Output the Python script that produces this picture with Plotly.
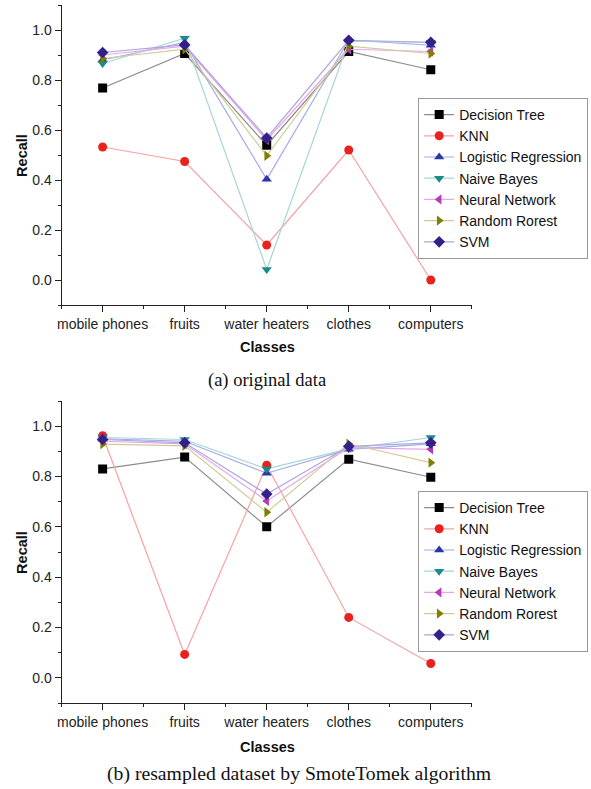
import plotly.graph_objects as go

classes = ["mobile phones", "fruits", "water heaters", "clothes", "computers"]
models = ["Decision Tree", "KNN", "Logistic Regression", "Naive Bayes",
          "Neural Network", "Random Rorest", "SVM"]

# (a) original data
orig_dt = [0.768, 0.906, 0.539, 0.914, 0.841]
orig_knn = [0.532, 0.474, 0.140, 0.520, 0.000]
orig_lr = [0.880, 0.950, 0.403, 0.960, 0.939]
orig_nb = [0.866, 0.967, 0.042, 0.955, 0.950]
orig_nn = [0.900, 0.935, 0.560, 0.923, 0.914]
orig_rf = [0.886, 0.923, 0.497, 0.935, 0.906]
orig_svm = [0.910, 0.940, 0.568, 0.959, 0.951]

# (b) resampled by SmoteTomek
res_dt = [0.830, 0.877, 0.600, 0.869, 0.797]
res_knn = [0.962, 0.093, 0.845, 0.240, 0.057]
res_lr = [0.950, 0.940, 0.813, 0.908, 0.930]
res_nb = [0.955, 0.947, 0.830, 0.910, 0.955]
res_nn = [0.940, 0.930, 0.703, 0.915, 0.908]
res_rf = [0.929, 0.922, 0.658, 0.930, 0.855]
res_svm = [0.947, 0.934, 0.730, 0.920, 0.934]

y_ticks = [0.0, 0.2, 0.4, 0.6, 0.8, 1.0]

orig = [orig_dt, orig_knn, orig_lr, orig_nb, orig_nn, orig_rf, orig_svm]
res = [res_dt, res_knn, res_lr, res_nb, res_nn, res_rf, res_svm]

symbols = ["square", "circle", "triangle-up", "triangle-down",
           "triangle-left", "triangle-right", "diamond"]
mcolors = ["#000000", "#e8231f", "#2b35a8", "#1b8a8a", "#b43cb4", "#7f7f00", "#35208a"]
lcolors = ["#8c8c8c", "#f5a3a3", "#a3a8ec", "#a6d6d6", "#e6a6ec", "#cdcd98", "#aea6dc"]

xpos = list(range(1, len(classes) + 1))

fig = go.Figure()
for i, m in enumerate(models):
    fig.add_trace(go.Scatter(
        x=xpos, y=orig[i], mode="lines+markers", name=m,
        line=dict(color=lcolors[i], width=1.2),
        marker=dict(symbol=symbols[i], color=mcolors[i], size=9),
        xaxis="x", yaxis="y", legend="legend"))
for i, m in enumerate(models):
    fig.add_trace(go.Scatter(
        x=xpos, y=res[i], mode="lines+markers", name=m,
        line=dict(color=lcolors[i], width=1.2),
        marker=dict(symbol=symbols[i], color=mcolors[i], size=9),
        xaxis="x2", yaxis="y2", legend="legend2"))

W, H = 591, 789
xl, xr = 58, 471
def py(p):
    return 1 - p / H

tickfont = dict(family="Liberation Sans, Arial", size=14, color="#222")
xcommon = dict(range=[0.5, 5.5], tickvals=xpos, ticktext=classes,
               showline=True, linecolor="#222", linewidth=1.2,
               ticks="outside", ticklen=6, tickcolor="#222",
               showgrid=False, zeroline=False, tickfont=tickfont,
               minor=dict(ticks="outside", ticklen=3, tick0=0.5, dtick=0.5, tickcolor="#222"))
ycommon = dict(range=[-0.1, 1.1], tickvals=y_ticks, tickformat=".1f",
               showline=True, linecolor="#222", linewidth=1.2,
               ticks="outside", ticklen=6, tickcolor="#222",
               showgrid=False, zeroline=False, tickfont=tickfont,
               minor=dict(ticks="outside", ticklen=3, tick0=0.1, dtick=0.2, tickcolor="#222"))

legcommon = dict(bgcolor="white", bordercolor="#999", borderwidth=1,
                 font=dict(family="Liberation Sans, Arial", size=14, color="#111"),
                 xanchor="left", yanchor="top", tracegroupgap=0, itemwidth=30)

fig.update_layout(
    width=W, height=H, margin=dict(l=0, r=0, t=0, b=0),
    paper_bgcolor="white", plot_bgcolor="white", showlegend=True,
    xaxis=dict(domain=[xl / W, xr / W], anchor="y", **xcommon),
    yaxis=dict(domain=[py(305), py(5)], anchor="x", **ycommon),
    xaxis2=dict(domain=[xl / W, xr / W], anchor="y2", **xcommon),
    yaxis2=dict(domain=[py(703), py(401)], anchor="x2", **ycommon),
    legend=dict(x=417 / W, y=py(98), **legcommon),
    legend2=dict(x=417 / W, y=py(491), **legcommon),
)

bold = dict(family="Liberation Sans, Arial", size=14.5, color="#111")
ann = [
    dict(text="<b>Recall</b>", x=18 / W, y=py(155), textangle=-90, font=bold),
    dict(text="<b>Classes</b>", x=265 / W, y=py(347), font=bold),
    dict(text="(a) original data", x=265 / W, y=py(380),
         font=dict(family="Liberation Serif, Times New Roman", size=18.5, color="#111")),
    dict(text="<b>Recall</b>", x=18 / W, y=py(552), textangle=-90, font=bold),
    dict(text="<b>Classes</b>", x=265 / W, y=py(747), font=bold),
    dict(text="(b) resampled dataset by SmoteTomek algorithm", x=297 / W, y=py(773),
         font=dict(family="Liberation Serif, Times New Roman", size=19.7, color="#111")),
]
for a in ann:
    fig.add_annotation(xref="paper", yref="paper", showarrow=False,
                       xanchor="center", yanchor="middle", **a)

fig.write_html("out.html")
